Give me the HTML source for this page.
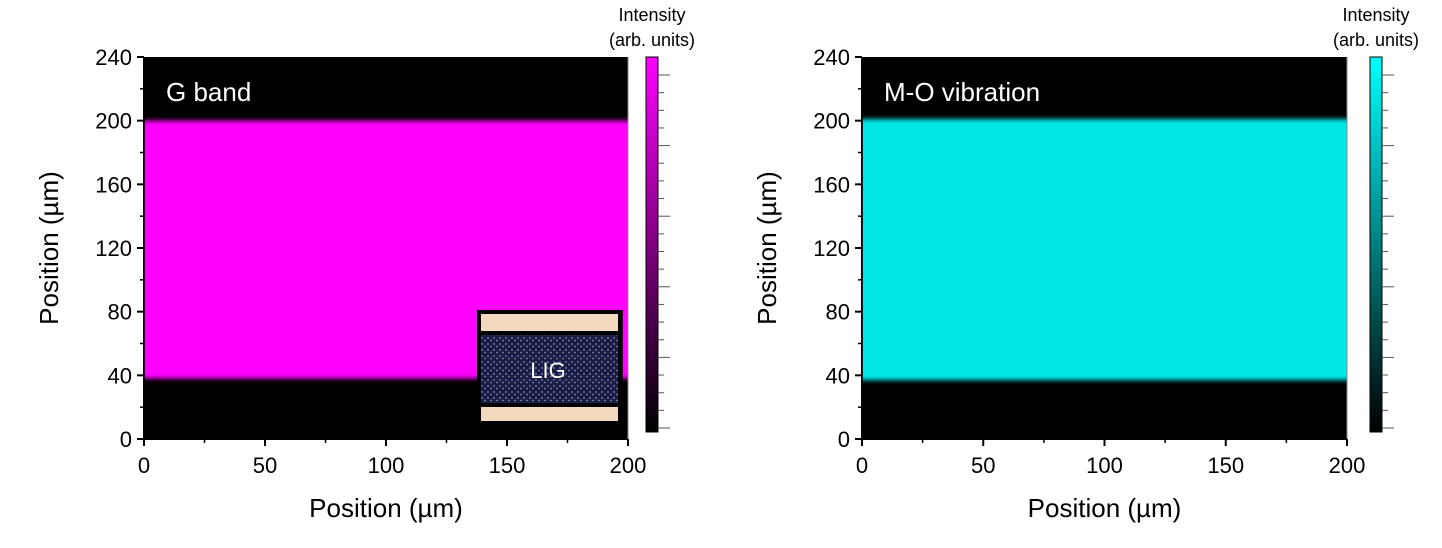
<!DOCTYPE html>
<html><head><meta charset="utf-8"><style>
body{margin:0;background:#fff;}
svg{display:block;font-family:"Liberation Sans",Arial,sans-serif;}
</style></head><body>
<svg id="chart" width="1442" height="548" viewBox="0 0 1442 548" xmlns="http://www.w3.org/2000/svg">
<defs>
<linearGradient id="cbMag" x1="0" y1="1" x2="0" y2="0"><stop offset="0" stop-color="#000"/><stop offset="1" stop-color="#ff00ff"/></linearGradient>
<linearGradient id="cbCy" x1="0" y1="1" x2="0" y2="0"><stop offset="0" stop-color="#000"/><stop offset="1" stop-color="#00ffff"/></linearGradient>
<filter id="blur" x="-5%" y="-20%" width="110%" height="140%"><feGaussianBlur stdDeviation="0 2.5"/></filter>
<pattern id="lig" width="6" height="6" patternUnits="userSpaceOnUse"><rect width="6" height="6" fill="#1a1d3e"/><circle cx="2" cy="2" r="1.1" fill="#5560b5"/><circle cx="5" cy="4.5" r="0.9" fill="#7c85cc"/></pattern>
</defs>
<g id="root"></g>
</svg>
<script>
const xTicks=[0,50,100,150,200];
const yTicks=[0,40,80,120,160,200,240];
const panelTitles=["G band","M-O vibration"];
const bandLower=[38,37];
const bandUpper=[200,201];
const panelColors=["#ff00ff","#00e6e6"];
const cbMajorCount=6, cbMinorPerMajor=4;
const NS="http://www.w3.org/2000/svg";
const root=document.getElementById('root');
function el(tag,attrs,parent,text){const e=document.createElementNS(NS,tag);for(const k in attrs)e.setAttribute(k,attrs[k]);if(text!==undefined)e.textContent=text;(parent||root).appendChild(e);return e;}
const panels=[{x0:144,x1:628,cbx:646},{x0:862,x1:1347,cbx:1370}];
const yTop=57,yBot=439;
panels.forEach((p,i)=>{
  const g=el('g',{});
  
  
  const sx=v=>p.x0+(v-0)/200*(p.x1-p.x0);
  const sy=v=>yBot-(v/240)*(yBot-yTop);
  const bg=el('rect',{x:p.x0,y:yTop,width:p.x1-p.x0,height:yBot-yTop,fill:'#000'},g);
  
  
  const band=el('rect',{x:p.x0,y:sy(bandUpper[i]),width:p.x1-p.x0,height:sy(bandLower[i])-sy(bandUpper[i]),fill:panelColors[i],filter:'url(#blur)'},g);
  
  
  el('rect',{x:p.x0-6,y:yTop-6,width:6,height:yBot-yTop+6,fill:'#fff'},g);
  el('rect',{x:p.x1,y:yTop-6,width:8,height:yBot-yTop+6,fill:'#fff'},g);
  el('line',{x1:p.x1,y1:yTop,x2:p.x1,y2:yBot,stroke:'#888','stroke-width':1},g);
  const t=el('text',{x:p.x0+22,y:101,fill:'#fff','font-size':26},g,panelTitles[i]);
  
  
  el('line',{x1:p.x0,y1:yTop,x2:p.x0,y2:yBot,stroke:'#000','stroke-width':2},g);
  el('line',{x1:p.x0,y1:yBot,x2:p.x1,y2:yBot,stroke:'#000','stroke-width':2},g);
  yTicks.forEach((v,k)=>{
    el('line',{x1:p.x0-7,y1:sy(v),x2:p.x0,y2:sy(v),stroke:'#000','stroke-width':2},g);
    const lt=el('text',{x:p.x0-12,y:sy(v)+8,'text-anchor':'end','font-size':22},g,String(v));
    
    
    if(k<yTicks.length-1) el('line',{x1:p.x0-4,y1:sy(v+20),x2:p.x0,y2:sy(v+20),stroke:'#000','stroke-width':1.5},g);
  });
  xTicks.forEach((v,k)=>{
    el('line',{x1:sx(v),y1:yBot,x2:sx(v),y2:yBot+7,stroke:'#000','stroke-width':2},g);
    const lt=el('text',{x:sx(v),y:yBot+34,'text-anchor':'middle','font-size':22},g,String(v));
    
    
    if(k<xTicks.length-1) el('line',{x1:sx(v+25),y1:yBot,x2:sx(v+25),y2:yBot+4,stroke:'#000','stroke-width':1.5},g);
  });
  const xt=el('text',{x:(p.x0+p.x1)/2,y:517,'text-anchor':'middle','font-size':26},g,'Position (µm)');
  
  
  const yx=p.x0-86, yy=(yTop+yBot)/2;
  const yt=el('text',{x:yx,y:yy,'text-anchor':'middle','font-size':26,transform:`rotate(-90 ${yx} ${yy})`},g,'Position (µm)');
  
  
  const cb=el('rect',{x:p.cbx,y:57,width:12,height:375,fill:i==0?'url(#cbMag)':'url(#cbCy)',stroke:'#000','stroke-width':1},g);
  
  
  const n=(cbMajorCount-1)*cbMinorPerMajor;
  for(let k=0;k<=n;k++){
    const y=428-k*(428-75)/n;
    const maj=k%cbMinorPerMajor==0;
    el('line',{x1:p.cbx+12,y1:y,x2:p.cbx+12+(maj?12:6),y2:y,stroke:'#555','stroke-width':1},g);
  }
  const c1=el('text',{x:p.cbx+6,y:21,'text-anchor':'middle','font-size':18},g,'Intensity');
  
  
  el('text',{x:p.cbx+6,y:46,'text-anchor':'middle','font-size':18},g,'(arb. units)');
});
const ig=el('g',{});


el('rect',{x:477,y:310,width:146,height:115,fill:'#000'},ig);
el('rect',{x:481,y:314,width:137,height:17,fill:'#f3d9bd'},ig);
el('rect',{x:481,y:335,width:137,height:68,fill:'url(#lig)'},ig);
el('rect',{x:481,y:407,width:137,height:14,fill:'#f3d9bd'},ig);
const lt=el('text',{x:548,y:378,'text-anchor':'middle','font-size':22,fill:'#fff'},ig,'LIG');


</script>
</body></html>
